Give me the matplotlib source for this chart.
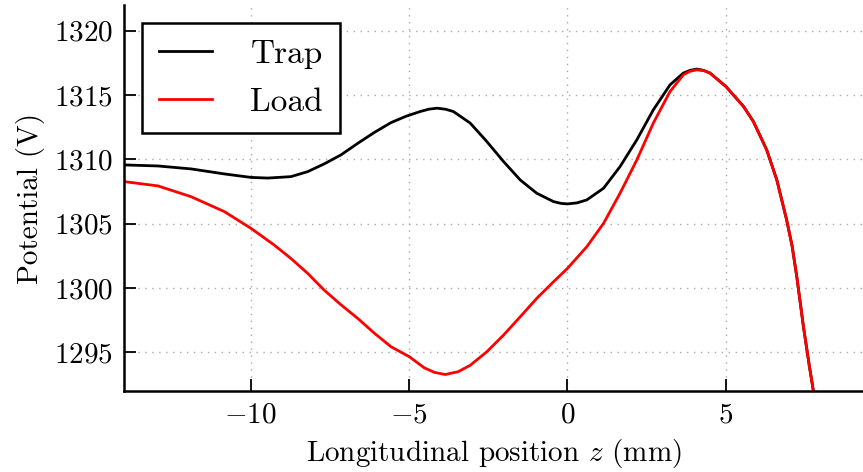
import matplotlib
matplotlib.use('Agg')
import matplotlib.pyplot as plt

# on-axis potential for the trap and load electrode settings
z_trap = [-13.98, -12.93, -11.88, -10.83, -9.99, -9.46, -8.73, -8.2, -7.68, -7.15, -6.62,
          -6.1, -5.57, -5.1, -4.65, -4.38, -4.12, -3.85, -3.6, -3.07, -2.55, -2.02, -1.49,
          -0.97, -0.44, -0.2, 0, 0.3, 0.61, 1.14, 1.66, 2.19, 2.71, 3.24, 3.66, 3.87, 4.08,
          4.3, 4.5, 5.0, 5.56, 5.87, 6.29, 6.61, 6.92, 7.09, 7.24, 7.45, 7.64, 7.76]
v_trap = [1309.57, 1309.49, 1309.26, 1308.87, 1308.6, 1308.55, 1308.66, 1309.05, 1309.65,
          1310.35, 1311.25, 1312.09, 1312.86, 1313.35, 1313.72, 1313.9, 1313.98, 1313.9,
          1313.72, 1312.82, 1311.4, 1309.84, 1308.4, 1307.37, 1306.72, 1306.58, 1306.54,
          1306.62, 1306.85, 1307.76, 1309.44, 1311.52, 1313.85, 1315.8, 1316.71, 1316.92,
          1317.02, 1316.92, 1316.71, 1315.67, 1314.11, 1312.94, 1310.74, 1308.4, 1305.29,
          1303.3, 1300.88, 1296.99, 1293.88, 1292.06]

z_load = [-13.98, -12.93, -11.88, -10.83, -9.99, -9.26, -8.73, -8.2, -7.68, -7.15, -6.62,
          -6.1, -5.57, -4.99, -4.52, -4.2, -3.86, -3.45, -3.07, -2.55, -2.02, -1.49, -0.97,
          -0.44, 0, 0.61, 1.14, 1.66, 2.19, 2.71, 3.24, 3.66, 3.87, 4.08, 4.3, 4.5, 5.0,
          5.56, 5.87, 6.29, 6.61, 6.92, 7.09, 7.24, 7.45, 7.64, 7.76]
v_load = [1308.27, 1307.94, 1307.1, 1305.94, 1304.64, 1303.35, 1302.3, 1301.14, 1299.84,
          1298.7, 1297.64, 1296.5, 1295.44, 1294.66, 1293.8, 1293.45, 1293.28, 1293.5,
          1294.0, 1295.04, 1296.34, 1297.77, 1299.2, 1300.49, 1301.53, 1303.21, 1305.03,
          1307.37, 1309.96, 1312.82, 1315.28, 1316.58, 1316.85, 1316.96, 1316.9, 1316.71,
          1315.67, 1314.11, 1312.94, 1310.74, 1308.4, 1305.29, 1303.3, 1300.88, 1296.99,
          1293.88, 1292.06]

x_ticks = [-10, -5, 0, 5]
y_ticks = [1295, 1300, 1305, 1310, 1315, 1320]

plt.rcParams['font.family'] = 'serif'
plt.rcParams['font.serif'] = ['cmr10']
plt.rcParams['mathtext.fontset'] = 'cm'
plt.rcParams['axes.formatter.use_mathtext'] = True
plt.rcParams['font.size'] = 21

fig = plt.figure(figsize=(8.63, 4.72), dpi=100)
ax = fig.add_axes([124/863, 1 - 391/472, 1 - 124/863, (391 - 5)/472])

ax.plot(z_trap, v_trap, color='black', lw=2.0, label='Trap', solid_joinstyle='round')
ax.plot(z_load, v_load, color='red', lw=2.0, label='Load', solid_joinstyle='round')

ax.set_xlim(-14, 9.33)
ax.set_ylim(1292, 1322)
ax.set_xticks(x_ticks)
ax.set_yticks(y_ticks)

for side in ['top', 'right']:
    ax.spines[side].set_visible(False)
for side in ['left', 'bottom']:
    ax.spines[side].set_linewidth(1.8)
ax.tick_params(direction='in', length=8.5, width=1.3, top=False, right=False, pad=8)
ax.grid(True, color='#aaaaaa', linestyle=(0, (1, 4)), linewidth=1)

ax.set_xlabel('Longitudinal position $z$ (mm)', labelpad=6)
ax.set_ylabel('Potential (V)', labelpad=6)

leg = ax.legend(loc='upper left', bbox_to_anchor=(18/739, (391 - 23)/386), borderaxespad=0,
                fontsize=24, fancybox=False, edgecolor='black', framealpha=1,
                handlelength=1.6, handletextpad=1.15, borderpad=0.5, labelspacing=0.55)
leg.get_frame().set_linewidth(1.8)

fig.savefig('out.png', dpi=100)
